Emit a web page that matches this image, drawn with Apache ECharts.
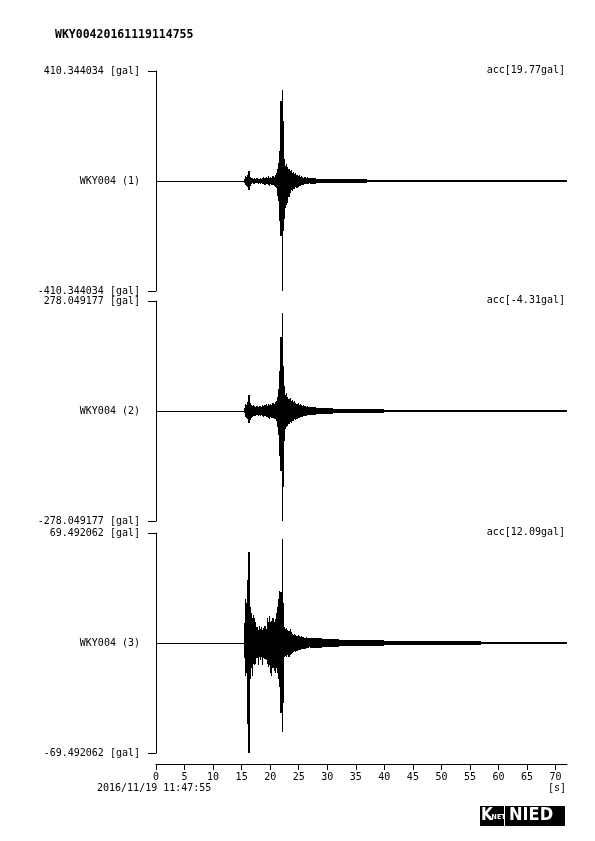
<!DOCTYPE html>
<html><head><meta charset="utf-8">
<script src="https://cdn.jsdelivr.net/npm/echarts/dist/echarts.min.js"></script>
<style>html,body{margin:0;padding:0;background:#fff}#c{width:595px;height:841px}</style>
</head><body><div id="c"></div>
<script>
// ---------- texts ----------
const stationTitle = 'WKY00420161119114755';
const startTime = '2016/11/19 11:47:55';
const timeUnit = '[s]';
const channelNames = ['WKY004 (1)', 'WKY004 (2)', 'WKY004 (3)'];
const axisMax = [410.344034, 278.049177, 69.492062];
const axisMaxText = ['410.344034', '278.049177', '69.492062'];
const offsetLabels = ['acc[19.77gal]', 'acc[-4.31gal]', 'acc[12.09gal]'];
const xTicks = [0, 5, 10, 15, 20, 25, 30, 35, 40, 45, 50, 55, 60, 65, 70];
const timeEnd = 72;

// ---------- envelope data (gal) ----------
// fine bins: 0.2 s wide, first bin starts at 15.2 s
const fineStart = 15.2, fineStep = 0.2;
// tail bins: 1 s wide, first bin starts at 27 s
const tailStart = 27, tailStep = 1;

const p1Max = [0,7,19,15,22,38,15,11,11,8,
  11,8,10,7,8,11,8,11,15,11,
  14,11,19,11,15,12,18,15,22,30,
  45,67,112,300,340,224,82,56,63,52,
  45,37,41,30,34,26,30,22,19,22,
  15,19,15,11,15,11,15,11,11];
const p1Min = [0,-7,-15,-19,-22,-34,-18,-11,-8,-11,
  -11,-8,-8,-11,-8,-10,-7,-11,-11,-15,
  -12,-11,-15,-19,-11,-14,-15,-19,-22,-26,
  -56,-75,-150,-205,-410.344034,-187,-142,-100,-90,-82,
  -60,-45,-34,-37,-30,-30,-22,-26,-22,-19,
  -19,-15,-15,-15,-11,-11,-11,-11,-8];
const p1Tail = [10,9,9,8,8,8,7,6,7,6,
  4,4,4,4,4,4,4,5,4,5,
  4,5,4,4,5,4,4,4,4,4,
  4,4,4,4,4,4,4,4,4,4,
  4,4,4,4,4];

const p2Max = [0,8,18,15,23,40,20,15,13,15,
  13,10,13,10,13,13,10,15,13,15,
  18,13,18,15,18,15,20,18,23,25,
  35,56,101,187,247,114,63,40,46,35,
  30,33,25,28,23,25,20,18,20,15,
  18,15,13,15,13,10,13,10,10];
const p2Min = [0,-5,-15,-18,-20,-31,-23,-18,-15,-13,
  -13,-13,-10,-13,-10,-13,-10,-13,-15,-13,
  -15,-15,-18,-20,-15,-18,-18,-20,-20,-25,
  -40,-61,-114,-152,-278.049177,-192,-76,-46,-40,-38,
  -33,-28,-30,-25,-25,-20,-23,-20,-18,-18,
  -15,-15,-15,-13,-13,-13,-10,-10,-10];
const p2Tail = [9,8,8,7,6,6,5.5,5,4.5,4.5,
  4.2,4,4,3.5,3.5,3.5,3.5,3.5,3.5,3.5,
  3.5,3.5,3.5,3.5,3.5,3.5,3,3,3,3,
  3,3,3,3,3,3,3,3,3,3,
  3,3,3,3,3];

const p3Max = [0,12.6,28,25,40,57.5,23,19,16,18,
  16,13,10,8,11,9,10,8,9.5,11,
  9,16,13,17,13,14,16,13,15,19,
  23,28,33,32,66,25,10,9,9.5,8,
  7.5,9,7,5.7,5,5.7,5,4.4,5,4.4,
  3.8,4.4,3.8,3.8,3.2,3.8,3.2,3.2,3.2];
const p3Min = [0,-9.5,-21,-19,-51,-69.492062,-23,-16,-21,-13,
  -14,-13,-9.5,-14,-9,-11,-9,-14,-9.5,-10,
  -11,-13,-15,-14,-19,-21,-16,-18,-19,-16,
  -19,-23,-28,-44,-56,-38,-9,-8,-9,-7.5,
  -9,-7.5,-7,-6.3,-5.7,-5,-5.7,-5,-4.4,-4.4,
  -4.4,-3.8,-3.8,-3.8,-3.8,-3.2,-3.2,-3.2,-2.5];
const p3Tail = [3.2,3.2,2.8,2.5,2.5,2.2,1.9,1.9,1.8,1.8,
  1.6,1.6,1.6,1.5,1.4,1.4,1.3,1.3,1.3,1.3,
  1.2,1.2,1.2,1.1,1.1,1,1,1,1,1,
  0.9,0.9,0.9,0.9,0.9,0.9,0.9,0.9,0.9,0.9,
  0.9,0.9,0.9,0.9,0.9];

// ---------- build ----------
function buildBins(maxArr, minArr, tailArr) {
  const bins = [];
  for (let i = 0; i < maxArr.length; i++) {
    const t = Math.round((fineStart + i * fineStep) * 100) / 100;
    bins.push([t, Math.round((t + fineStep) * 100) / 100, minArr[i], maxArr[i]]);
  }
  for (let j = 0; j < tailArr.length; j++) {
    const t = tailStart + j * tailStep;
    bins.push([t, t + tailStep, -tailArr[j], tailArr[j]]);
  }
  return bins;
}
const panels = [
  buildBins(p1Max, p1Min, p1Tail),
  buildBins(p2Max, p2Min, p2Tail),
  buildBins(p3Max, p3Min, p3Tail)
];

const MONO = '"DejaVu Sans Mono", "Liberation Mono", monospace';
const gridTops = [71, 301, 533];
const gridH = 220;

function envRender(params, api) {
  const a = api.coord([api.value(0), api.value(3)]);
  const b = api.coord([api.value(1), api.value(2)]);
  const z = api.coord([0, 0]);
  const y0 = Math.floor(z[1]);
  const x = Math.round(a[0]);
  const w = Math.max(1, Math.round(b[0]) - x);
  const top = Math.min(y0, Math.round(a[1]));
  const bot = Math.max(y0 + 1, Math.round(b[1]));
  return { type: 'rect', shape: { x: x, y: top, width: w, height: bot - top }, style: { fill: '#000' } };
}
function baseRender(params, api) {
  const a = api.coord([api.value(0), 0]);
  const b = api.coord([api.value(1), 0]);
  const x = Math.round(a[0]);
  return { type: 'rect', shape: { x: x, y: Math.floor(a[1]), width: Math.round(b[0]) - x, height: 1 }, style: { fill: '#000' } };
}

const grid = [], xAxis = [], yAxis = [], series = [], graphic = [];
for (let i = 0; i < 3; i++) {
  const m = axisMax[i];
  grid.push({ left: 156, width: 411, top: gridTops[i], height: gridH });
  xAxis.push({
    type: 'value', gridIndex: i, min: 0, max: timeEnd, show: i === 2,
    position: 'bottom', offset: 11,
    axisLine: { show: true, onZero: false, lineStyle: { color: '#000', width: 1 } },
    axisTick: { show: true, length: 6, lineStyle: { color: '#000' }, customValues: xTicks },
    axisLabel: { show: true, color: '#000', fontFamily: MONO, fontSize: 10, margin: 8, customValues: xTicks },
    splitLine: { show: false }
  });
  yAxis.push({
    type: 'value', gridIndex: i, min: -m, max: m,
    axisLine: { show: true, lineStyle: { color: '#000', width: 1 } },
    axisTick: { show: true, length: 8, lineStyle: { color: '#000' }, customValues: [-m, m] },
    axisLabel: {
      show: true, color: '#000', fontFamily: MONO, fontSize: 10, margin: 16,
      customValues: [-m, 0, m],
      formatter: (v) => Math.abs(v) < 1e-9 ? channelNames[i] : (v > 0 ? axisMaxText[i] + ' [gal]' : '-' + axisMaxText[i] + ' [gal]')
    },
    splitLine: { show: false }
  });
  series.push({
    type: 'custom', xAxisIndex: i, yAxisIndex: i, renderItem: baseRender,
    encode: { x: [0, 1] }, data: [[0, timeEnd]], silent: true
  });
  series.push({
    type: 'custom', xAxisIndex: i, yAxisIndex: i, renderItem: envRender,
    encode: { x: [0, 1], y: [2, 3] }, data: panels[i], silent: true
  });
  graphic.push({
    type: 'text', right: 30, top: gridTops[i] - 6,
    style: { text: offsetLabels[i], fill: '#000', font: '10px ' + MONO }
  });
}

graphic.push({ type: 'text', left: 55, top: 29, style: { text: stationTitle, fill: '#000', font: 'bold 11.5px ' + MONO } });
graphic.push({ type: 'text', left: 97, top: 783, style: { text: startTime, fill: '#000', font: '10px ' + MONO } });
graphic.push({ type: 'text', right: 29, top: 783, style: { text: timeUnit, fill: '#000', font: '10px ' + MONO } });
// logo
graphic.push({ type: 'rect', left: 480, top: 806, shape: { width: 24, height: 20 }, style: { fill: '#000' } });
graphic.push({ type: 'text', left: 481, top: 807, style: { text: 'K', fill: '#fff', font: 'bold 17px "DejaVu Sans Condensed", "DejaVu Sans"' } });
graphic.push({ type: 'text', left: 489, top: 814, style: { text: '-NET', fill: '#fff', font: 'bold 7px "DejaVu Sans Condensed", "DejaVu Sans"' } });
graphic.push({ type: 'rect', left: 505, top: 806, shape: { width: 60, height: 20 }, style: { fill: '#000' } });
graphic.push({ type: 'text', left: 509, top: 806, style: { text: 'NIED', fill: '#fff', font: 'bold 18px "DejaVu Sans Condensed", "DejaVu Sans"' } });

const chart = echarts.init(document.getElementById('c'), null, { renderer: 'canvas' });
chart.setOption({ animation: false, backgroundColor: '#fff', grid, xAxis, yAxis, series, graphic });
</script></body></html>
